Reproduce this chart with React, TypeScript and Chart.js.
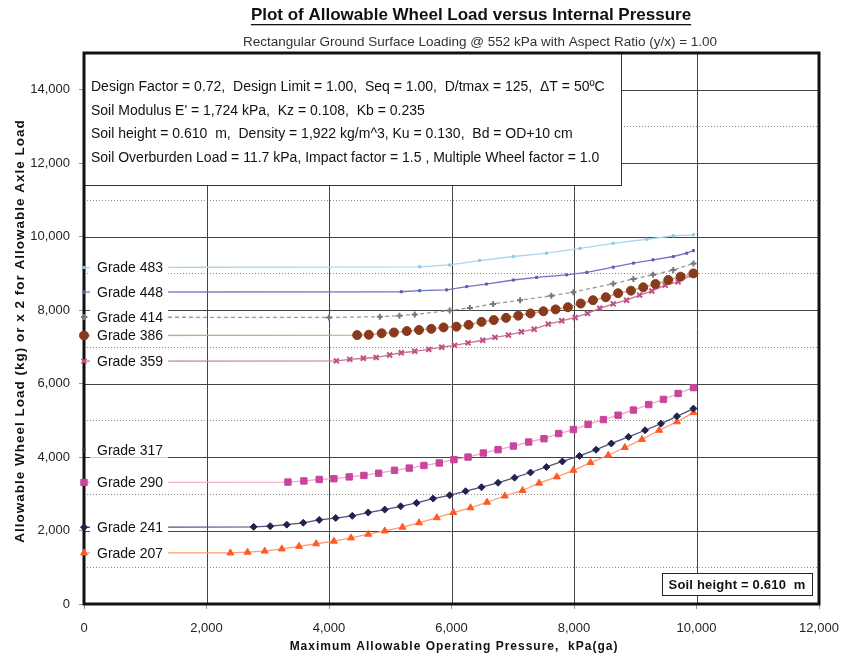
import React, { useEffect, useRef } from 'react';
import { Chart, registerables } from 'chart.js';

Chart.register(...registerables);

const TITLE = 'Plot of Allowable Wheel Load versus Internal Pressure';
const SUBTITLE = 'Rectangular Ground Surface Loading @ 552 kPa with Aspect Ratio (y/x) = 1.00';
const X_TITLE = 'Maximum Allowable Operating Pressure,  kPa(ga)';
const Y_TITLE = 'Allowable Wheel Load (kg) or x 2 for Allowable Axle Load';
const INFO_LINES = [
  'Design Factor = 0.72,  Design Limit = 1.00,  Seq = 1.00,  D/tmax = 125,  \u0394T = 50\u00BAC',
  "Soil Modulus E' = 1,724 kPa,  Kz = 0.108,  Kb = 0.235",
  'Soil height = 0.610  m,  Density = 1,922 kg/m^3, Ku = 0.130,  Bd = OD+10 cm',
  'Soil Overburden Load = 11.7 kPa, Impact factor = 1.5 , Multiple Wheel factor = 1.0',
];
const SOIL_NOTE = 'Soil height = 0.610  m';

const X_TICKS = [0, 2000, 4000, 6000, 8000, 10000, 12000];
const Y_TICKS = [0, 2000, 4000, 6000, 8000, 10000, 12000, 14000];
const Y_MINOR = [1000, 3000, 5000, 7000, 9000, 11000, 13000];

const P483 = [0, 5480, 5970, 6460, 7010, 7550, 8100, 8640, 9190, 9620, 9950];
const L483 = [9160, 9180, 9230, 9350, 9460, 9550, 9680, 9820, 9930, 10020, 10050];

const P448 = [0, 5180, 5480, 5920, 6250, 6570, 7010, 7390, 7880, 8210, 8640, 8970, 9290, 9620, 9840, 9950];
const L448 = [8490, 8500, 8530, 8550, 8640, 8710, 8820, 8890, 8960, 9030, 9170, 9280, 9370, 9460, 9550, 9620];

const P414 = [0, 4000, 4830, 5150, 5400, 5970, 6300, 6680, 7120, 7630, 7990, 8640, 8970, 9290, 9620, 9950];
const L414 = [7810, 7800, 7820, 7850, 7880, 7990, 8060, 8170, 8270, 8390, 8490, 8720, 8850, 8960, 9090, 9270];

const P386 = [0, 4460, 4650, 4860, 5060, 5270, 5470, 5670, 5870, 6080, 6280, 6490, 6690, 6890, 7090, 7290, 7500, 7700, 7900, 8110, 8310, 8520, 8720, 8930, 9130, 9330, 9540, 9740, 9950];
const L386 = [7310, 7320, 7330, 7370, 7390, 7430, 7460, 7490, 7530, 7550, 7600, 7680, 7730, 7790, 7850, 7910, 7970, 8020, 8080, 8180, 8270, 8350, 8460, 8530, 8620, 8710, 8820, 8910, 9000];

const P359 = [0, 4120, 4340, 4560, 4770, 4990, 5180, 5400, 5630, 5840, 6050, 6270, 6510, 6710, 6930, 7140, 7350, 7580, 7800, 8020, 8220, 8420, 8640, 8860, 9070, 9270, 9490, 9700, 9920];
const L359 = [6610, 6620, 6660, 6690, 6710, 6780, 6840, 6880, 6930, 6990, 7040, 7110, 7180, 7260, 7320, 7410, 7480, 7620, 7710, 7800, 7910, 8050, 8170, 8270, 8410, 8520, 8680, 8770, 8960];

const P317 = [0];
const L317 = [4200];

const P290 = [0, 3330, 3590, 3840, 4080, 4330, 4570, 4810, 5070, 5310, 5550, 5800, 6040, 6270, 6520, 6760, 7010, 7260, 7510, 7750, 7990, 8230, 8480, 8720, 8970, 9220, 9460, 9700, 9950];
const L290 = [3310, 3320, 3350, 3390, 3410, 3460, 3500, 3560, 3640, 3700, 3770, 3840, 3930, 4000, 4110, 4200, 4300, 4410, 4500, 4640, 4750, 4890, 5020, 5140, 5280, 5430, 5570, 5730, 5890];

const P241 = [0, 2770, 3040, 3310, 3580, 3840, 4110, 4380, 4640, 4910, 5170, 5430, 5700, 5970, 6230, 6490, 6760, 7030, 7290, 7550, 7810, 8090, 8360, 8610, 8890, 9160, 9420, 9680, 9950];
const L241 = [2090, 2100, 2120, 2160, 2210, 2290, 2340, 2400, 2490, 2570, 2660, 2750, 2870, 2960, 3070, 3180, 3300, 3440, 3580, 3730, 3880, 4030, 4200, 4370, 4550, 4730, 4910, 5110, 5320];

const P207 = [0, 2390, 2670, 2950, 3230, 3510, 3790, 4080, 4360, 4640, 4910, 5200, 5470, 5760, 6030, 6310, 6580, 6870, 7160, 7430, 7720, 7990, 8270, 8560, 8830, 9110, 9390, 9680, 9950];
const L207 = [1390, 1390, 1410, 1440, 1500, 1570, 1640, 1710, 1800, 1900, 1990, 2090, 2210, 2350, 2490, 2620, 2770, 2940, 3090, 3290, 3460, 3640, 3850, 4050, 4260, 4480, 4730, 4960, 5210];

const FONT = 'Arial, "Liberation Sans", Helvetica, sans-serif';

const zip = (xs: number[], ys: number[]) => xs.map((x, i) => ({ x, y: ys[i] }));

const series = [
  { label: 'Grade 483', xs: P483, ys: L483, line: '#a8d8ec', fill: '#8cc8e4', style: 'rect', r: 1.5 },
  { label: 'Grade 448', xs: P448, ys: L448, line: '#7075c4', fill: '#5a5fb4', style: 'rect', r: 1.5 },
  { label: 'Grade 414', xs: P414, ys: L414, line: '#9a9a9a', fill: '#777777', style: 'cross', r: 3, dash: [4, 3] },
  { label: 'Grade 386', xs: P386, ys: L386, line: '#c9a47e', fill: '#8a3a1c', style: 'circle', r: 4.5 },
  { label: 'Grade 359', xs: P359, ys: L359, line: '#c87495', fill: '#c04f86', style: 'crossRot', r: 3.5 },
  { label: 'Grade 317', xs: P317, ys: L317, line: '#333333', fill: '#333333', style: 'rect', r: 1.5 },
  { label: 'Grade 290', xs: P290, ys: L290, line: '#f2a6c6', fill: '#c9449c', style: 'rect', r: 4.5 },
  { label: 'Grade 241', xs: P241, ys: L241, line: '#50507e', fill: '#22224c', style: 'rectRot', r: 3.5 },
  { label: 'Grade 207', xs: P207, ys: L207, line: '#ff9a70', fill: '#ff5a24', style: 'triangle', r: 4 },
];

const decorPlugin = {
  id: 'decor',
  beforeDatasetsDraw(chart: any) {
    const { ctx, chartArea: a, scales } = chart;
    const x = scales.x;
    const y = scales.y;
    ctx.save();
    ctx.lineWidth = 1;
    ctx.strokeStyle = '#8c8c8c';
    ctx.setLineDash([1, 2]);
    Y_MINOR.forEach((v) => {
      const py = Math.round(y.getPixelForValue(v)) + 0.5;
      ctx.beginPath();
      ctx.moveTo(a.left, py);
      ctx.lineTo(a.right, py);
      ctx.stroke();
    });
    ctx.setLineDash([]);
    ctx.strokeStyle = '#444';
    Y_TICKS.forEach((v) => {
      const py = Math.round(y.getPixelForValue(v)) + 0.5;
      ctx.beginPath();
      ctx.moveTo(a.left, py);
      ctx.lineTo(a.right, py);
      ctx.stroke();
    });
    X_TICKS.forEach((v) => {
      const px = Math.round(x.getPixelForValue(v)) + 0.5;
      ctx.beginPath();
      ctx.moveTo(px, a.top);
      ctx.lineTo(px, a.bottom);
      ctx.stroke();
    });
    // info box
    const bw = 537;
    const bh = 132;
    ctx.fillStyle = '#ffffff';
    ctx.fillRect(a.left, a.top, bw, bh);
    ctx.strokeStyle = '#333';
    ctx.lineWidth = 1;
    ctx.strokeRect(a.left + 0.5, a.top + 0.5, bw, bh);
    ctx.fillStyle = '#111';
    ctx.font = `14px ${FONT}`;
    ctx.textBaseline = 'middle';
    ctx.textAlign = 'left';
    INFO_LINES.forEach((t, i) => {
      ctx.fillText(t, a.left + 7, a.top + 34 + i * 23.7);
    });
    // frame
    ctx.strokeStyle = '#111';
    ctx.lineWidth = 3;
    ctx.strokeRect(a.left, a.top, a.right - a.left, a.bottom - a.top);
    ctx.restore();
  },
  afterDatasetsDraw(chart: any) {
    const { ctx, chartArea: a } = chart;
    ctx.save();
    ctx.font = `14px ${FONT}`;
    ctx.textBaseline = 'middle';
    ctx.textAlign = 'left';
    chart.data.datasets.forEach((ds: any, i: number) => {
      const meta = chart.getDatasetMeta(i);
      const pt = meta.data[0];
      if (!pt) return;
      const py = pt.y;
      const w = ctx.measureText(ds.label).width;
      ctx.fillStyle = '#ffffff';
      ctx.fillRect(a.left + 6, py - 8, w + 12, 16);
      ctx.fillStyle = '#111';
      ctx.fillText(ds.label, a.left + 13, py + 1);
    });
    // soil note box
    const nw = 150;
    const nh = 22;
    const nx = a.right - 7 - nw;
    const ny = a.bottom - 9 - nh;
    ctx.fillStyle = '#fff';
    ctx.fillRect(nx, ny, nw, nh);
    ctx.strokeStyle = '#222';
    ctx.lineWidth = 1;
    ctx.strokeRect(nx + 0.5, ny + 0.5, nw, nh);
    ctx.fillStyle = '#111';
    ctx.textAlign = 'center';
    ctx.font = `bold 13px ${FONT}`;
    (ctx as any).letterSpacing = '0.2px';
    ctx.fillText(SOIL_NOTE, nx + nw / 2, ny + nh / 2 + 1);
    (ctx as any).letterSpacing = '0px';
    ctx.restore();
  },
  afterDraw(chart: any) {
    const { ctx } = chart;
    ctx.save();
    ctx.fillStyle = '#111';
    ctx.textAlign = 'center';
    ctx.textBaseline = 'middle';
    ctx.font = `bold 17px ${FONT}`;
    const tx = 471;
    ctx.fillText(TITLE, tx, 15);
    const tw = ctx.measureText(TITLE).width;
    ctx.fillRect(tx - tw / 2, 24, tw, 1.3);
    ctx.fillStyle = '#333';
    ctx.font = `13.5px ${FONT}`;
    ctx.fillText(SUBTITLE, 480, 42);
    ctx.fillStyle = '#111';
    ctx.font = `bold 12px ${FONT}`;
    (ctx as any).letterSpacing = '1px';
    ctx.fillText(X_TITLE, 454, 647);
    ctx.font = `bold 13.5px ${FONT}`;
    ctx.translate(20, 331);
    ctx.rotate(-Math.PI / 2);
    ctx.fillText(Y_TITLE, 0, 0);
    (ctx as any).letterSpacing = '0px';
    ctx.restore();
  },
};

export default function App() {
  const ref = useRef<HTMLCanvasElement | null>(null);
  useEffect(() => {
    document.body.style.margin = '0';
    const canvas = ref.current;
    if (!canvas) return;
    const chart = new Chart(canvas, {
      type: 'line',
      data: {
        datasets: series.map((s) => ({
          label: s.label,
          data: zip(s.xs, s.ys),
          borderColor: s.line,
          backgroundColor: s.fill,
          borderWidth: 1.3,
          borderDash: (s as any).dash || [],
          pointStyle: s.style as any,
          pointRadius: s.r,
          pointBackgroundColor: s.fill,
          pointBorderColor: s.fill,
          pointBorderWidth: s.style === 'cross' || s.style === 'crossRot' ? 2 : 1,
          tension: 0,
          clip: false as any,
        })),
      },
      options: {
        animation: false,
        responsive: false,
        layout: { padding: { top: 53, right: 24, left: 0, bottom: 0 } },
        plugins: { legend: { display: false }, tooltip: { enabled: false }, title: { display: false } },
        scales: {
          x: {
            type: 'linear',
            min: 0,
            max: 12000,
            afterBuildTicks: (s: any) => {
              s.ticks = X_TICKS.map((v) => ({ value: v }));
            },
            afterFit: (s: any) => {
              s.height = 57;
              s.paddingLeft = 0;
              s.paddingRight = 0;
            },
            grid: { drawOnChartArea: false, drawTicks: true, tickLength: 5, color: '#999' },
            border: { display: false },
            ticks: { color: '#222', font: { family: FONT, size: 13 }, padding: 12, maxRotation: 0 },
          },
          y: {
            type: 'linear',
            min: 0,
            max: 15000,
            afterBuildTicks: (s: any) => {
              s.ticks = Y_TICKS.map((v) => ({ value: v }));
            },
            afterFit: (s: any) => {
              s.width = 84;
              s.paddingTop = 0;
              s.paddingBottom = 0;
            },
            grid: { drawOnChartArea: false, drawTicks: true, tickLength: 5, color: '#999' },
            border: { display: false },
            ticks: { color: '#222', font: { family: FONT, size: 13 }, padding: 9 },
          },
        },
      },
      plugins: [decorPlugin],
    });
    return () => chart.destroy();
  }, []);
  return <canvas ref={ref} width={843} height={661} style={{ display: 'block', width: 843, height: 661 }} />;
}
